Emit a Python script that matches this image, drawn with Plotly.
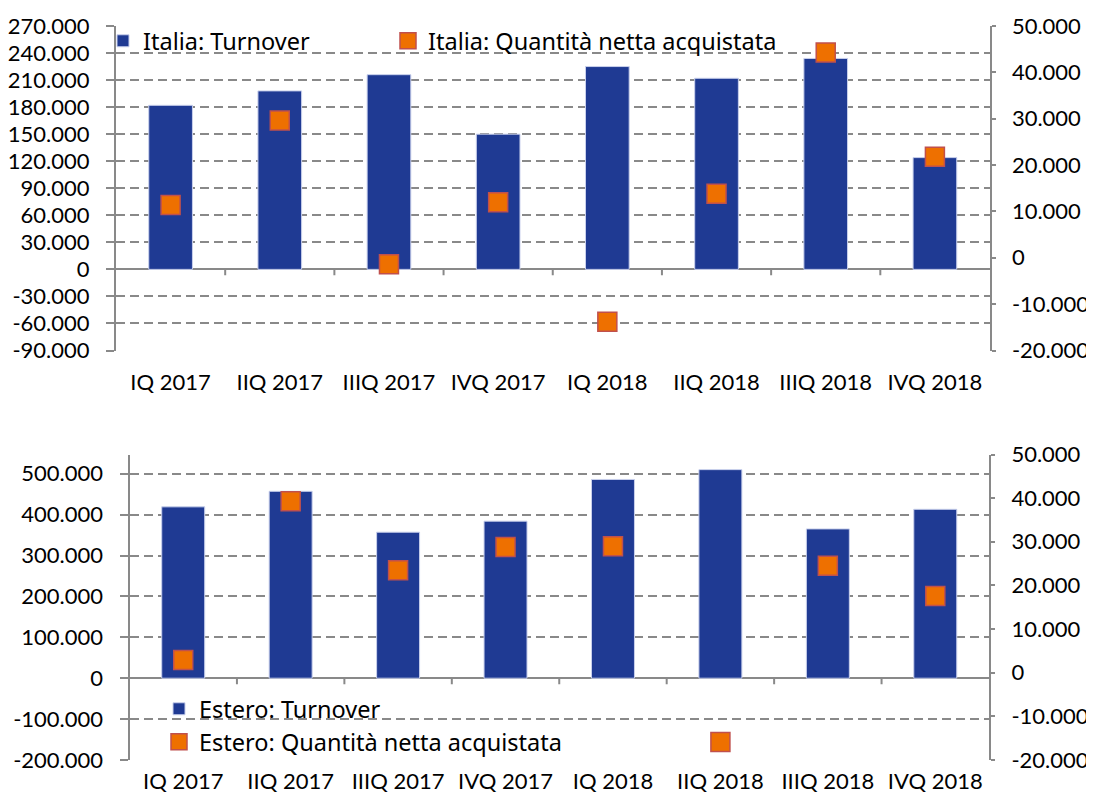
import plotly.graph_objects as go
from plotly.subplots import make_subplots

# ---------------- data ----------------
categories = ["IQ 2017", "IIQ 2017", "IIIQ 2017", "IVQ 2017",
              "IQ 2018", "IIQ 2018", "IIIQ 2018", "IVQ 2018"]

italia_turnover = [182000, 198000, 216000, 150000, 225000, 212000, 234000, 124000]
italia_quantita = [11400, 29600, -1400, 12000, -13800, 13800, 44300, 21800]

estero_turnover = [419000, 457000, 357000, 384000, 486000, 510000, 365000, 413000]
estero_quantita = [2900, 39300, 23500, 28800, 29000, -15900, 24500, 17600]

top_left_ticks = [-90000, -60000, -30000, 0, 30000, 60000, 90000, 120000,
                  150000, 180000, 210000, 240000, 270000]
right_ticks = [-20000, -10000, 0, 10000, 20000, 30000, 40000, 50000]
bottom_left_ticks = [-200000, -100000, 0, 100000, 200000, 300000, 400000, 500000]


def it_fmt(v):
    return f"{v:,}".replace(",", ".")


# ---------------- style ----------------
OFF = 8                      # page body margin
W, H = 1094 - OFF, 801 - OFF
BLUE = "#1F3A93"
BAR_EDGE = "#C9D0EC"
ORANGE = "#EE7000"
ORANGE_EDGE = "#C0504D"
GRAY = "#898989"
FONT = dict(family="Lato, Noto Sans, sans-serif", size=22, color="black")
LEG_FONT = dict(family="Noto Sans, Open Sans, sans-serif", size=23.5, color="black")


def fx(px):
    return (px - OFF) / W


def fy(px):
    return 1 - (px - OFF) / H


fig = make_subplots(rows=2, cols=1,
                    specs=[[{"secondary_y": True}], [{"secondary_y": True}]])

fig.add_trace(go.Bar(x=categories, y=italia_turnover, name="Italia: Turnover",
                     marker=dict(color=BLUE, line=dict(color=BAR_EDGE, width=1)),
                     legend="legend"),
              row=1, col=1, secondary_y=False)
fig.add_trace(go.Scatter(x=categories, y=italia_quantita, mode="markers",
                         name="Italia: Quantità netta acquistata",
                         marker=dict(symbol="square", size=19, color=ORANGE,
                                     line=dict(color=ORANGE_EDGE, width=1.5)),
                         legend="legend2"),
              row=1, col=1, secondary_y=True)

fig.add_trace(go.Bar(x=categories, y=estero_turnover, name="Estero: Turnover",
                     marker=dict(color=BLUE, line=dict(color=BAR_EDGE, width=1)),
                     legend="legend3"),
              row=2, col=1, secondary_y=False)
fig.add_trace(go.Scatter(x=categories, y=estero_quantita, mode="markers",
                         name="Estero: Quantità netta acquistata",
                         marker=dict(symbol="square", size=19, color=ORANGE,
                                     line=dict(color=ORANGE_EDGE, width=1.5)),
                         legend="legend4"),
              row=2, col=1, secondary_y=True)

left_common = dict(showgrid=True, gridcolor=GRAY, gridwidth=2, griddash="9px,5px",
                   zeroline=True, zerolinecolor=GRAY, zerolinewidth=2,
                   showline=True, linecolor=GRAY, linewidth=2,
                   ticks="outside", ticklen=8, tickcolor=GRAY, tickwidth=2,
                   tickfont=FONT, tickmode="array", ticklabelstandoff=12,
                   automargin=False)
right_common = dict(showgrid=False, zeroline=False,
                    showline=True, linecolor=GRAY, linewidth=2,
                    ticks="outside", ticklen=4, tickcolor=GRAY, tickwidth=2,
                    tickfont=FONT, tickmode="array",
                    tickvals=right_ticks, ticktext=[it_fmt(v) for v in right_ticks],
                    range=[-20000, 50000], ticklabelstandoff=12, automargin=False)
x_common = dict(type="category", showline=False, ticks="", showgrid=False,
                tickfont=FONT, range=[-0.5, len(categories) - 0.5], automargin=False)


def leg(xpx, ypx):
    return dict(orientation="v", x=fx(xpx), y=fy(ypx), xanchor="left", yanchor="top",
                bgcolor="rgba(0,0,0,0)", font=LEG_FONT)


fig.update_layout(
    template="none",
    width=W, height=H,
    margin=dict(l=0, r=0, t=0, b=0, autoexpand=False),
    paper_bgcolor="white", plot_bgcolor="white",
    font=FONT,
    bargap=0.6,
    showlegend=True,
    xaxis=dict(x_common, domain=[fx(116), fx(989.5)], ticklabelstandoff=16),
    yaxis=dict(left_common, domain=[fy(350.5), fy(26)],
               range=[-90000, 270000], tickvals=top_left_ticks,
               ticktext=[it_fmt(v) for v in top_left_ticks]),
    yaxis2=dict(right_common),
    xaxis2=dict(x_common, domain=[fx(129.5), fx(989)], ticklabelstandoff=6),
    yaxis3=dict(left_common, domain=[fy(760), fy(454.5)],
                range=[-200000, 547000], tickvals=bottom_left_ticks,
                ticktext=[it_fmt(v) for v in bottom_left_ticks]),
    yaxis4=dict(right_common),
    legend=leg(143 - 40, 42 - 23),
    legend2=leg(428 - 40, 42 - 23),
    legend3=leg(199 - 40, 710 - 23),
    legend4=leg(199 - 40, 743 - 23),
)

# small category-boundary ticks on the zero line (axis decoration)
shapes = []
for i in range(1, len(categories)):
    shapes.append(dict(type="line", xref="x", yref="y", x0=i - 0.5, x1=i - 0.5,
                       y0=0, y1=-6600, line=dict(color=GRAY, width=2)))
    shapes.append(dict(type="line", xref="x2", yref="y3", x0=i - 0.5, x1=i - 0.5,
                       y0=0, y1=-14800, line=dict(color=GRAY, width=2)))
fig.update_layout(shapes=shapes)

fig.write_html("out.html")
